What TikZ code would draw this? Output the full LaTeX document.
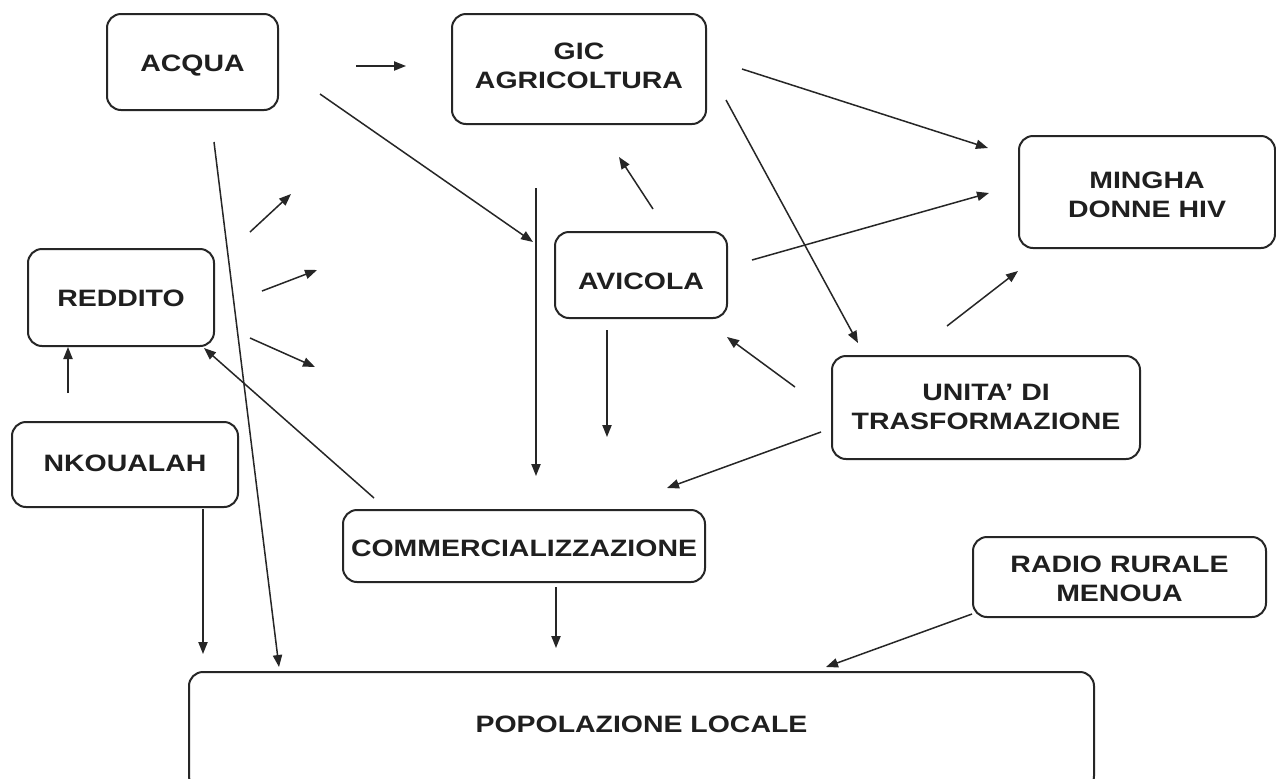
\documentclass[tikz,border=0pt]{standalone}
\usepackage{fontspec}
\setmainfont{Liberation Sans}
\usetikzlibrary{arrows.meta}
\newsavebox{\txbox}
\newcommand{\TX}[2][0pt]{\sbox{\txbox}{\scalebox{1.2}[1]{\begin{tabular}{@{}c@{}}#2\end{tabular}}}\raisebox{#1}[\ht\txbox][\dp\txbox]{\usebox{\txbox}}}
\begin{document}
\begin{tikzpicture}[x=0.5pt,y=-0.5pt,
  box/.style={draw=black!85,line width=1pt,rounded corners=7pt,inner sep=0pt,
    font=\fontsize{11.85}{14.5}\selectfont\bfseries,text=black!88},
  arr/.style={draw=black!85,line width=0.75pt,-{Triangle[length=6pt,width=4.6pt]}},
  lbl/.style={inner sep=0pt,font=\fontsize{11.85}{14.5}\selectfont\bfseries,text=black!88}]
\clip (0,0) rectangle (1276,778);
\fill[white] (0,0) rectangle (1276,778);
% boxes
\node[box,minimum width=85.5pt,minimum height=48pt] (acqua) at (192.5,62) {\TX[-2pt]{ACQUA}};
\node[box,minimum width=127pt,minimum height=55pt] (gic) at (579,69) {\TX[0.5pt]{GIC\\AGRICOLTURA}};
\node[box,minimum width=128pt,minimum height=56pt] (mingha) at (1147,192) {\TX[-2.75pt]{MINGHA\\DONNE HIV}};
\node[box,minimum width=86pt,minimum height=43pt] (avicola) at (641,275) {\TX[-4.5pt]{AVICOLA}};
\node[box,minimum width=93pt,minimum height=48.5pt] (reddito) at (121,297.5) {\TX[-1.5pt]{REDDITO}};
\node[box,minimum width=154pt,minimum height=51.5pt] (unita) at (986,407.5) {\TX[-1pt]{UNITA' DI\\TRASFORMAZIONE}};
\node[box,minimum width=113pt,minimum height=42.5pt] (nkoualah) at (125,464.5) {\TX[-0.5pt]{NKOUALAH}};
\node[box,minimum width=181pt,minimum height=36pt] (comm) at (524,546) {\TX[-2.5pt]{COMMERCIALIZZAZIONE}};
\node[box,minimum width=146.5pt,minimum height=40pt] (radio) at (1119.5,577) {\TX[-2pt]{RADIO RURALE\\MENOUA}};
\node[box,minimum width=452.5pt,minimum height=59pt] (pop) at (641.5,731) {};
\node[lbl] (poptext) at (641.5,727) {\TX{POPOLAZIONE LOCALE}};
% arrow end points
\coordinate (a1s) at (356,66);  \coordinate (a1e) at (406,66);
\coordinate (a2s) at (320,94);  \coordinate (a2e) at (533,242);
\coordinate (a3s) at (214,142); \coordinate (a3e) at (279,667);
\coordinate (a4s) at (250,232); \coordinate (a4e) at (291,194);
\coordinate (a5s) at (262,291); \coordinate (a5e) at (317,270);
\coordinate (a6s) at (250,338); \coordinate (a6e) at (315,367);
\coordinate (a7s) at (68,393);  \coordinate (a7e) at (68,347);
\coordinate (a8s) at (374,498); \coordinate (a8e) at (204,348);
\coordinate (a9s) at (536,188); \coordinate (a9e) at (536,476);
\coordinate (a10s) at (607,330); \coordinate (a10e) at (607,437);
\coordinate (a11s) at (653,209); \coordinate (a11e) at (619,157);
\coordinate (a12s) at (742,69);  \coordinate (a12e) at (988,148);
\coordinate (a13s) at (726,100); \coordinate (a13e) at (858,343);
\coordinate (a14s) at (752,260); \coordinate (a14e) at (989,193);
\coordinate (a15s) at (947,326); \coordinate (a15e) at (1018,271);
\coordinate (a16s) at (795,387); \coordinate (a16e) at (727,337);
\coordinate (a17s) at (821,432); \coordinate (a17e) at (667,488);
\coordinate (a18s) at (203,509); \coordinate (a18e) at (203,654);
\coordinate (a19s) at (556,587); \coordinate (a19e) at (556,648);
\coordinate (a20s) at (972,614); \coordinate (a20e) at (826,667);
\foreach \i in {1,...,20} {\draw[arr] (a\i s) -- (a\i e);}
\end{tikzpicture}
\end{document}
